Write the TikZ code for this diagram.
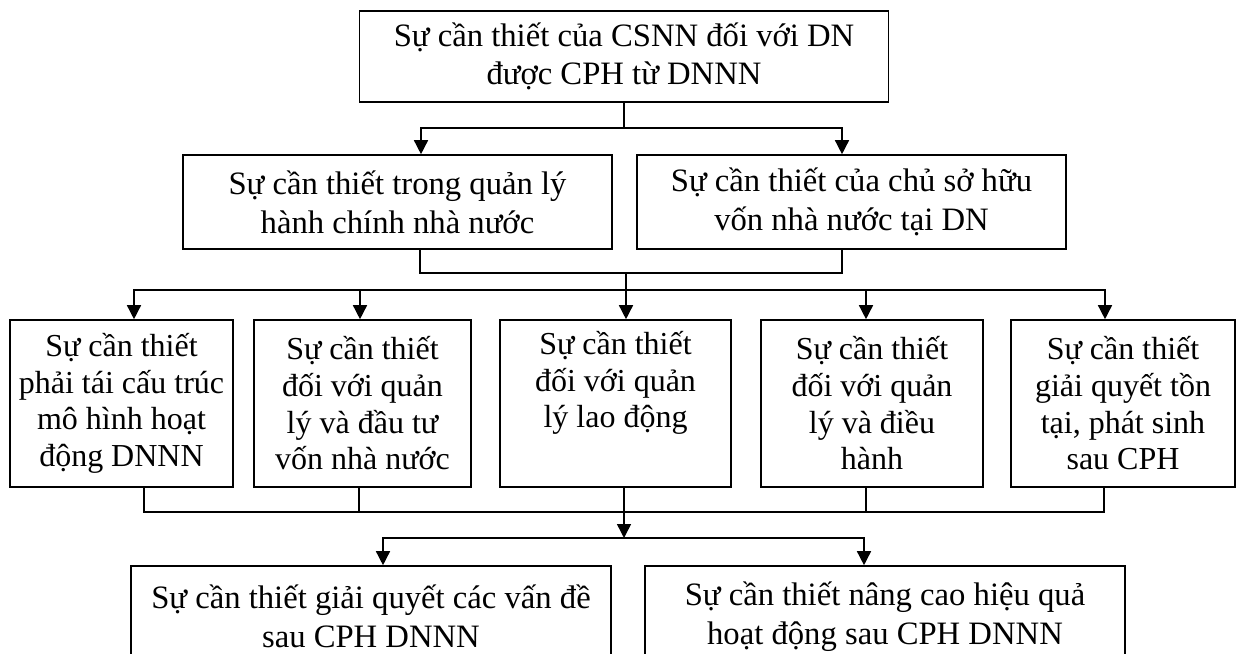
\documentclass[tikz,border=0pt]{standalone}
\usepackage{fontspec}
\setmainfont{Liberation Serif}
\usetikzlibrary{arrows.meta}
\newlength\pxu
\setlength\pxu{0.75pt}
\begin{document}
\begin{tikzpicture}[x=0.75pt,y=-0.75pt,
  box/.style={draw, line width=1.2pt, align=center, inner sep=0pt,
    font=\fontsize{24.5}{29}\selectfont},
  tallbox/.style={box, minimum height=167\pxu,
    font=\fontsize{24}{27.5}\selectfont},
  link/.style={line width=1.1pt},
  arr/.style={link, -{Triangle[width=10.5pt,length=10.5pt]}}]
\fill[white] (0,0) rectangle (1238,653);
\useasboundingbox (0,0) rectangle (1238,653);

% top level
\node[box, minimum width=529\pxu, minimum height=91\pxu] (top) at (624,56.5)
  {Sự cần thiết của CSNN đối với DN\\được CPH từ DNNN};

% second level
\node[box, minimum width=429\pxu, minimum height=94\pxu] (mgmt) at (397.5,202)
  {Sự cần thiết trong quản lý\\hành chính nhà nước};
\node[box, minimum width=429\pxu, minimum height=94\pxu] (owner) at (851.5,202)
  {Sự cần thiết của chủ sở hữu\\vốn nhà nước tại DN};

% third level
\node[tallbox, minimum width=223\pxu] (restr) at (121.5,403.5)
  {Sự cần thiết\\phải tái cấu trúc\\mô hình hoạt\\động DNNN};
\node[tallbox, minimum width=217\pxu] (invest) at (362.5,403.5)
  {Sự cần thiết\\đối với quản\\lý và đầu tư\\vốn nhà nước};
\node[tallbox, minimum width=231\pxu] (labour) at (615.5,403.5)
  {Sự cần thiết\\đối với quản\\lý lao động\\\strut};
\node[tallbox, minimum width=222\pxu] (exec) at (872,403.5)
  {Sự cần thiết\\đối với quản\\lý và điều\\hành};
\node[tallbox, minimum width=224\pxu] (settle) at (1123,403.5)
  {Sự cần thiết\\giải quyết tồn\\tại, phát sinh\\sau CPH};

% bottom level
\node[box, minimum width=480\pxu, minimum height=101\pxu] (issues) at (371,616.5)
  {Sự cần thiết giải quyết các vấn đề\\sau CPH DNNN};
\node[box, minimum width=480\pxu, minimum height=101\pxu] (perf) at (885,616.5)
  {Sự cần thiết nâng cao hiệu quả\\hoạt động sau CPH DNNN};

% top -> second level
\draw[arr] (top.south) -- ++(0,25) -| ([xshift=23.5\pxu]mgmt.north);
\draw[arr] (top.south) -- ++(0,25) -| ([xshift=-9.5\pxu]owner.north);

% second level -> third level
\coordinate (hub2) at (626,273);
\coordinate (bus3) at (626,290);
\draw[link] ([xshift=22.5\pxu]mgmt.south) |- (hub2) -| ([xshift=-9.5\pxu]owner.south);
\draw[arr] (hub2) -- (hub2 |- labour.north);
\draw[arr] (bus3) -| ([xshift=12.5\pxu]restr.north);
\draw[arr] (bus3) -| ([xshift=-2.5\pxu]invest.north);
\draw[arr] (bus3) -| ([xshift=-6\pxu]exec.north);
\draw[arr] (bus3) -| ([xshift=-18\pxu]settle.north);

% third level -> bottom level
\coordinate (hub4) at (624,512);
\coordinate (bus5) at (624,538);
\draw[link] ([xshift=22.5\pxu]restr.south) |- (hub4);
\draw[link] ([xshift=-3.5\pxu]invest.south) |- (hub4);
\draw[link] ([xshift=8.5\pxu]labour.south) -- (hub4);
\draw[link] ([xshift=-6\pxu]exec.south) |- (hub4);
\draw[link] ([xshift=-19\pxu]settle.south) |- (hub4);
\draw[arr] (hub4) -- (bus5);
\draw[arr] (bus5) -| ([xshift=12\pxu]issues.north);
\draw[arr] (bus5) -| ([xshift=-21\pxu]perf.north);
\end{tikzpicture}
\end{document}
